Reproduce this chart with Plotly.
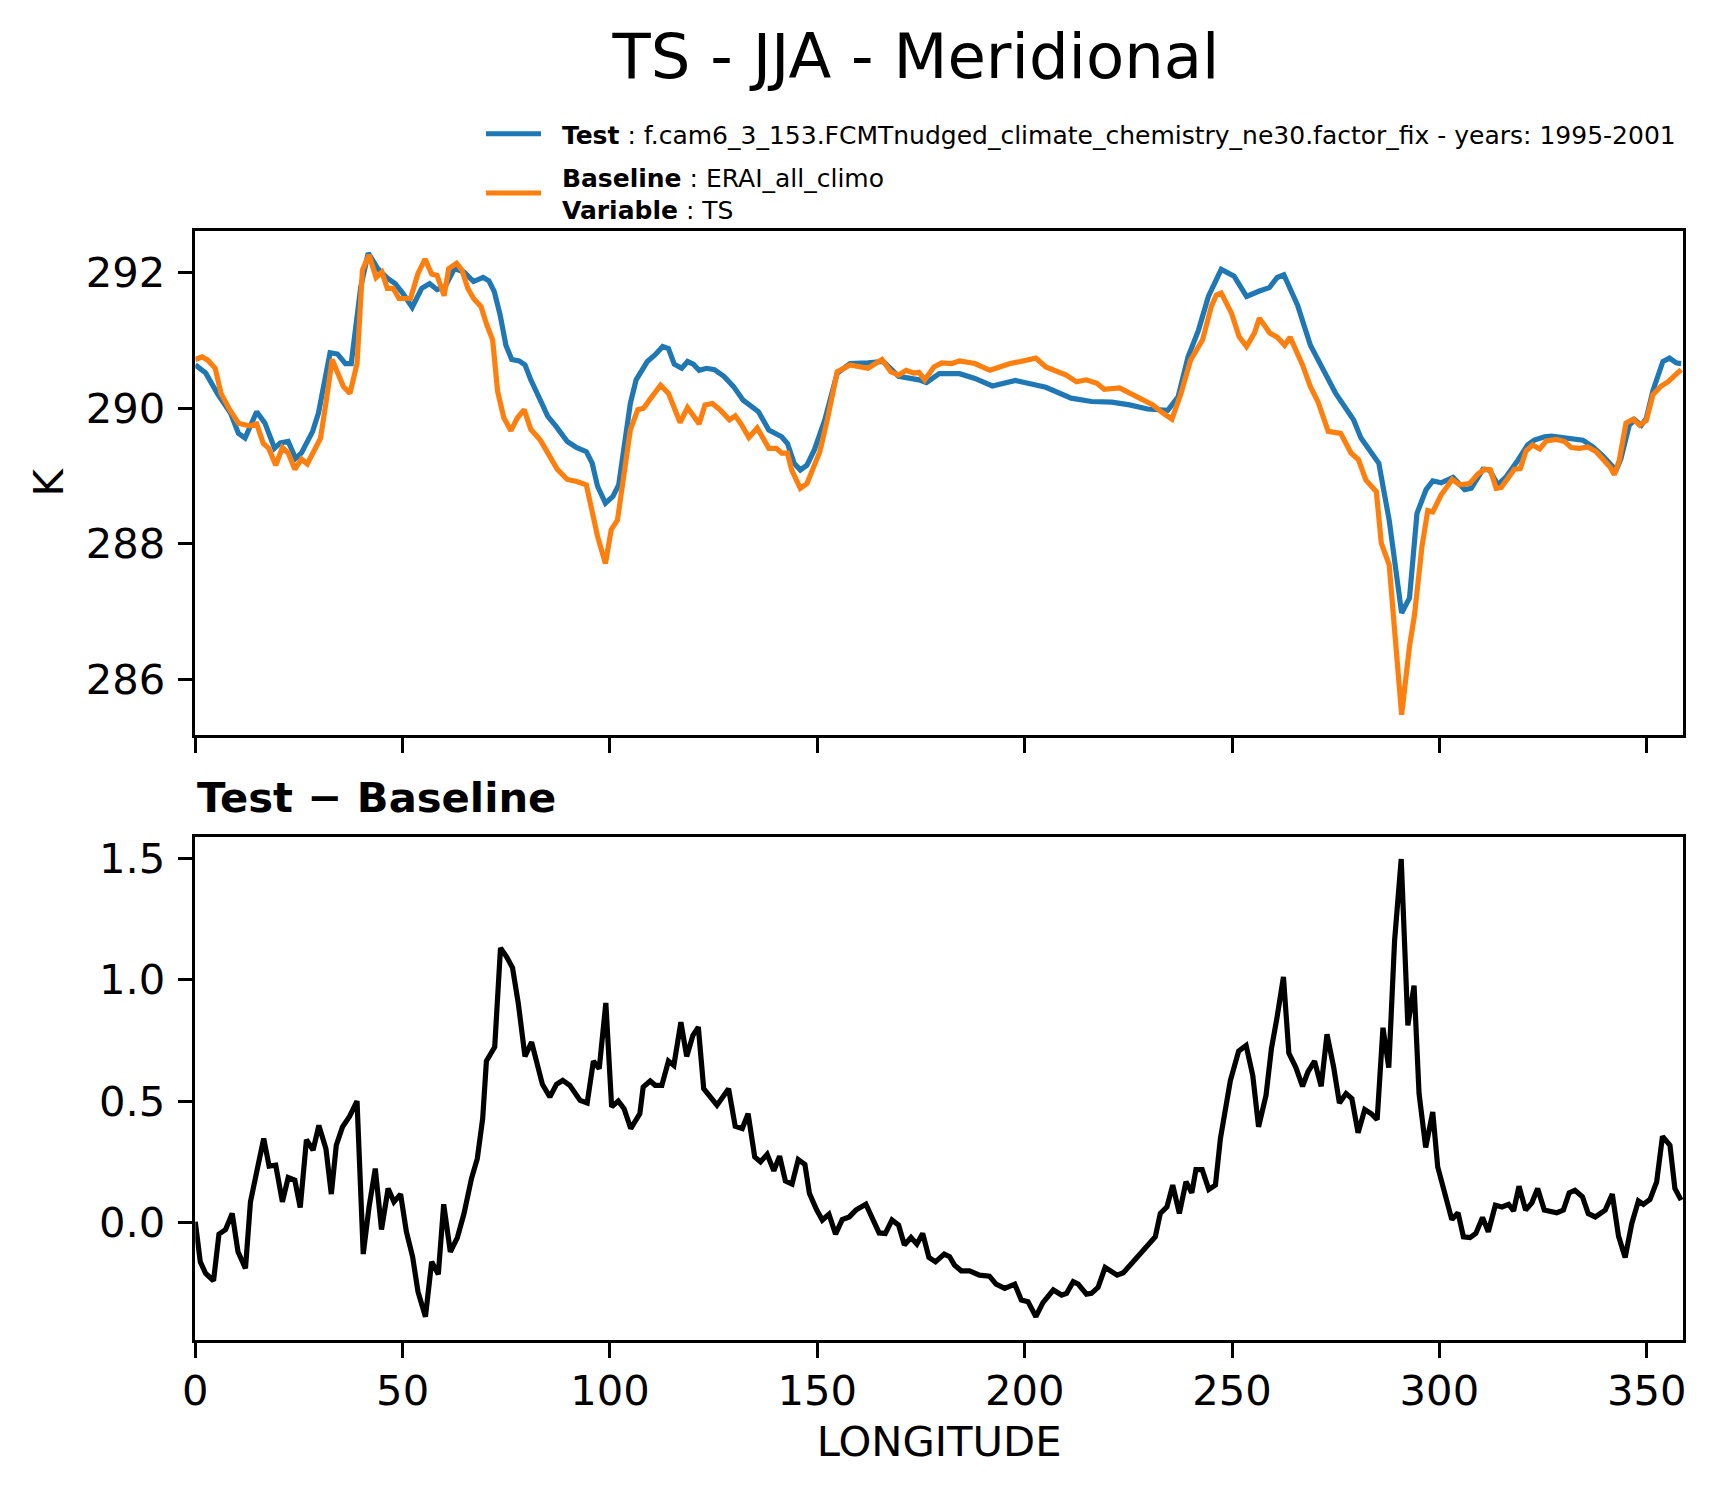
import plotly.graph_objects as go

# ---------------- data ----------------
test_lon = [0, 2.5, 5.3, 8.5, 10.4, 12.0, 14.8, 16.8, 19.1, 20.5, 22.4, 24.2, 25.6, 27.0, 28.3, 29.7,
            32.5, 34.3, 36.2, 37.6, 39.9, 41.7, 44.0, 46.3, 48.2, 50.0, 52.3, 54.6, 56.5, 58.3, 60.2,
            62.5, 64.8, 67.1, 69.4, 70.8, 72.1, 73.5, 74.9, 76.3, 78.1, 79.5, 80.9, 83.2, 85.0, 86.9,
            89.7, 92.0, 94.3, 95.7, 97.0, 98.9, 100.7, 102.1, 103.5, 104.9, 106.3, 109.0, 110.9, 112.7,
            114.1, 115.5, 117.3, 118.7, 120.1, 121.5, 123.3, 125.2, 127.5, 129.8, 132.1,
            134.0, 135.8, 138.3, 141.4, 142.8, 144.4, 145.9, 147.5, 149.3, 151.8, 154.8, 157.9, 162.2,
            165.9, 169.6, 174.5, 176.3, 179.4, 184.3, 188.0, 192.2, 197.8, 205.1, 211.2, 216.1, 221.0,
            225.3, 229.6, 234.5, 237.0, 239.4, 241.9, 244.3, 247.4, 250.5, 253.5, 256.6, 259.0, 260.9,
            262.5, 265.8, 268.9, 275.0, 279.3, 281.1, 285.4, 287.9, 290.9, 292.8, 294.6,
            296.8, 298.4, 300.4, 303.3, 306.1, 307.7, 310.5, 312.1, 314.1, 316.1, 318.9, 321.3, 322.9,
            325.4, 327.0, 330.6, 334.6, 337.0, 339.4, 341.8, 342.5, 343.8, 345.8, 347.1, 348.7, 349.9,
            351.5, 353.9, 355.5, 357.1, 358.3]
test_ts = [290.64, 290.52, 290.22, 289.93, 289.63, 289.56, 289.95, 289.78, 289.41, 289.49, 289.51, 289.26,
           289.34, 289.53, 289.66, 289.93, 290.82, 290.80, 290.66, 290.66, 291.79, 292.29, 292.06, 291.92,
           291.84, 291.70, 291.49, 291.77, 291.84, 291.75, 291.79, 292.06, 292.01, 291.87, 291.93, 291.88,
           291.72, 291.38, 290.93, 290.72, 290.70, 290.64, 290.42, 290.12, 289.88, 289.74, 289.51, 289.42,
           289.36, 289.19, 288.85, 288.60, 288.70, 288.87, 289.43, 290.07, 290.42, 290.69, 290.79, 290.91,
           290.88, 290.65, 290.59, 290.69, 290.65, 290.56, 290.59, 290.57, 290.47, 290.32, 290.12,
           290.02, 289.95, 289.68, 289.58, 289.48, 289.19, 289.09, 289.16, 289.39, 289.83, 290.52, 290.66,
           290.67, 290.69, 290.47, 290.42, 290.38, 290.51, 290.51, 290.44, 290.33, 290.41, 290.31, 290.15,
           290.10, 290.09, 290.05, 289.99, 289.97, 290.17, 290.76, 291.15, 291.65, 292.05, 291.95, 291.65,
           291.73, 291.78, 291.93, 291.97, 291.52, 290.93, 290.22, 289.83, 289.56, 289.19, 288.35, 286.98,
           287.20, 288.45,
           288.80, 288.93, 288.90, 288.98, 288.80, 288.82, 289.10, 289.09, 288.87, 288.99, 289.23, 289.46,
           289.53, 289.58, 289.59, 289.57, 289.53, 289.43, 289.30, 289.14, 289.07, 289.26, 289.75, 289.83,
           289.75, 289.85, 290.26, 290.69, 290.74, 290.67, 290.66]

base_lon = [0, 1.6, 3.0, 4.8, 6.2, 8.1, 10.4, 13.1, 14.8, 16.4, 17.7, 19.4, 21.0, 22.4, 24.0, 25.6, 27.0,
            30.2, 31.6, 33.0, 35.7, 37.3, 39.0, 40.3, 41.9, 43.6, 45.0, 46.3, 47.7, 49.1, 51.9, 53.7,
            55.4, 57.0, 58.3, 60.0, 61.1, 63.0, 64.3, 65.7, 67.1, 68.9, 70.3, 71.7, 72.9, 74.4, 76.1,
            77.7, 79.3, 80.9, 83.2, 85.0, 87.3, 89.7, 92.0, 94.3, 95.7, 97.0, 98.9, 100.3, 101.8, 103.5,
            104.9, 106.7, 108.1, 109.5, 112.2, 114.1, 116.9, 118.7, 121.5, 122.9, 124.7, 126.5, 128.8,
            130.2, 131.6, 133.5,
            135.5, 138.3, 140.1, 141.4, 142.8, 143.8, 145.9, 147.5, 150.6, 152.4, 154.8, 157.9, 162.2,
            165.6, 167.7, 169.6, 171.4, 173.2, 174.5, 175.9, 178.1, 180.0, 182.4, 184.3, 188.0, 191.6,
            196.5, 199.0, 202.7, 205.1, 207.6, 210.0, 212.5, 214.9, 217.4, 219.2, 222.9, 227.2, 230.9,
            233.3, 235.5, 237.6, 240.0, 242.9, 245.0, 246.2, 247.4, 249.9, 251.7, 253.5, 255.4, 256.6,
            259.1, 260.9, 262.7, 264.0, 267.0, 268.9, 270.7, 273.2, 276.2, 278.7, 280.5, 282.3, 284.8,
            286.0, 287.9, 290.9, 292.8, 294.0, 295.8,
            297.2, 298.4, 300.4, 303.1, 304.9, 307.3, 309.3, 310.9, 312.3, 313.7, 314.9, 316.5, 318.1,
            319.5, 320.9, 322.5, 324.2, 325.8, 328.2, 330.2, 331.8, 333.8, 335.8, 337.8, 339.8, 341.2,
            342.2, 343.4, 345.0, 346.7, 348.3, 349.9, 351.5, 353.5, 355.1, 356.7, 358.3]
base_ts = [290.72, 290.76, 290.71, 290.59, 290.22, 290.00, 289.78, 289.74, 289.77, 289.48, 289.41, 289.16,
           289.42, 289.34, 289.10, 289.25, 289.18, 289.56, 290.12, 290.72, 290.32, 290.22, 290.66, 292.04,
           292.26, 291.93, 292.01, 291.77, 291.77, 291.62, 291.62, 291.99, 292.20, 291.98, 291.96, 291.66,
           292.06, 292.14, 292.04, 291.77, 291.62, 291.50, 291.23, 291.01, 290.25, 289.86, 289.67, 289.86,
           289.98, 289.69, 289.53, 289.34, 289.10, 288.95, 288.92, 288.87, 288.47, 288.11, 287.71, 288.21,
           288.35, 289.04, 289.68, 289.98, 290.00, 290.12, 290.34, 290.22, 289.79, 290.01, 289.77, 290.05,
           290.07, 289.98, 289.83, 289.89, 289.77, 289.57,
           289.71, 289.41, 289.41, 289.34, 289.34, 289.09, 288.82, 288.89, 289.36, 289.83, 290.54, 290.64,
           290.59, 290.72, 290.54, 290.49, 290.56, 290.52, 290.53, 290.42, 290.61, 290.67, 290.66, 290.70,
           290.66, 290.56, 290.66, 290.69, 290.74, 290.61, 290.54, 290.49, 290.39, 290.42, 290.37, 290.28,
           290.30, 290.17, 290.05, 289.93, 289.84, 290.20, 290.71, 291.01, 291.50, 291.67, 291.70, 291.40,
           291.06, 290.91, 291.11, 291.33, 291.11, 291.05, 290.93, 291.05, 290.64, 290.32, 290.10, 289.66,
           289.63, 289.34, 289.24, 288.94, 288.77, 288.01, 287.69, 285.48, 286.49, 286.95, 287.96,
           288.49, 288.47, 288.72, 288.95, 288.87, 288.89, 289.03, 289.10, 289.09, 288.82, 288.83, 288.95,
           289.10, 289.11, 289.37, 289.46, 289.40, 289.52, 289.54, 289.51, 289.42, 289.41, 289.43, 289.36,
           289.24, 289.13, 289.02, 289.24, 289.78, 289.84, 289.75, 289.82, 290.20, 290.33, 290.39, 290.49,
           290.57]

diff_lon = [0, 1.2, 2.5, 4.4, 5.7, 7.3, 8.9, 10.3, 12.1, 13.3, 14.7, 16.5, 17.8, 19.4, 21.0, 22.4, 24.0,
            25.3, 26.8, 28.4, 29.8, 31.5, 32.8, 34.0, 35.5, 37.2, 39.0, 40.5, 41.9, 43.4, 44.9, 46.5,
            47.9, 49.5, 50.9, 52.4, 53.7, 55.5, 57.0, 58.6, 59.9, 61.5, 63.2, 64.8, 66.6, 68.0, 69.3,
            70.2, 72.2, 73.6, 75.1, 76.5, 77.9, 79.5, 81.1, 82.3, 83.7, 85.5, 87.1, 88.6, 90.3, 92.8,
            94.5, 96.0, 97.4, 99.0, 100.4, 102.0, 103.4, 105.0, 107.2, 108.0, 109.7, 110.9, 112.5, 114.1,
            115.4, 117.1, 118.5, 120.0, 121.3,
            122.6, 125.8, 128.6, 130.2, 131.9, 133.3, 134.9, 136.3, 137.9, 139.5, 140.9, 142.3, 143.9,
            145.4, 147.0, 148.1, 149.8, 151.2, 152.8, 154.4, 156.0, 157.7, 159.3, 161.7, 164.9, 166.4,
            168.0, 169.6, 171.0, 172.6, 174.0, 175.4, 176.9, 178.5, 180.6, 181.9, 183.1, 184.7, 186.7,
            189.1, 191.5, 193.1, 195.2, 197.6, 199.2, 200.8, 202.7, 204.4, 206.9, 208.9, 210.1, 211.7,
            212.9, 214.9, 216.1, 217.7, 219.4, 220.7, 222.3, 223.8, 225.8, 228.2, 231.5, 232.7, 234.3,
            235.7, 237.3, 238.9, 240.3,
            241.3, 242.8, 244.4, 246.0, 247.2, 248.4, 249.6, 251.6, 253.4, 255.0, 256.4, 258.2, 259.5,
            260.8, 262.4, 263.7, 265.4, 267.0, 268.3, 269.9, 271.5, 272.9, 274.5, 275.9, 277.5, 278.9,
            280.4, 282.0, 283.6, 285.0, 286.4, 287.8, 289.2, 290.8, 292.4, 293.9, 295.1, 296.7, 298.4,
            299.6, 301.4, 303.0, 304.5, 305.8, 307.4, 308.8, 310.4, 311.8, 313.5, 315.1, 316.7, 317.9,
            319.2, 320.8, 322.3, 323.7, 325.3, 328.3, 329.9, 331.3, 332.7, 334.5, 335.9, 337.6, 340.0,
            341.7, 343.2, 344.8, 346.4, 348.0, 349.2, 350.8, 352.4, 353.8, 355.6, 356.8, 358.3]
diff_ts = [0.003, -0.162, -0.21, -0.24, -0.048, -0.029, 0.037, -0.121, -0.189, 0.085, 0.2, 0.346, 0.232,
           0.236, 0.085, 0.185, 0.174, 0.062, 0.341, 0.298, 0.4, 0.304, 0.117, 0.318, 0.394, 0.437, 0.5,
           -0.13, 0.064, 0.222, -0.029, 0.14, 0.085, 0.117, -0.038, -0.141, -0.285, -0.388, -0.162, -0.213,
           0.075, -0.121, -0.062, 0.037, 0.181, 0.263, 0.428, 0.665, 0.723, 1.131, 1.093, 1.049, 0.901,
           0.684, 0.743, 0.668, 0.569, 0.517, 0.569, 0.585, 0.565, 0.503, 0.492, 0.665, 0.633, 0.904,
           0.476, 0.5, 0.469, 0.387, 0.448, 0.558, 0.583, 0.565, 0.565, 0.665, 0.647, 0.825, 0.684, 0.771,
           0.805,
           0.551, 0.483, 0.551, 0.396, 0.387, 0.448, 0.27, 0.25, 0.281, 0.213, 0.273, 0.171, 0.158, 0.259,
           0.239, 0.119, 0.053, 0.01, 0.034, -0.048, 0.012, 0.023, 0.051, 0.075, -0.043, -0.045, 0.01,
           -0.011, -0.093, -0.062, -0.089, -0.045, -0.144, -0.162, -0.13, -0.141, -0.176, -0.199, -0.199,
           -0.217, -0.221, -0.254, -0.271, -0.254, -0.319, -0.326, -0.388, -0.33, -0.278, -0.299, -0.292,
           -0.244, -0.254, -0.295, -0.292, -0.267, -0.185, -0.199, -0.217, -0.207, -0.169, -0.128, -0.059,
           0.037, 0.064, 0.154, 0.037, 0.168, 0.122,
           0.218, 0.218, 0.136, 0.154, 0.346, 0.483, 0.585, 0.706, 0.729, 0.606, 0.394, 0.524, 0.716,
           0.839, 1.011, 0.698, 0.638, 0.561, 0.62, 0.665, 0.561, 0.775, 0.641, 0.492, 0.531, 0.51, 0.369,
           0.465, 0.448, 0.424, 0.802, 0.638, 1.161, 1.497, 0.812, 0.976, 0.531, 0.309, 0.455, 0.229,
           0.106, 0.012, 0.04, -0.059, -0.062, -0.045, 0.021, -0.038, 0.071, 0.064, 0.075, 0.048, 0.149,
           0.051, 0.081, 0.14, 0.051, 0.04, 0.051, 0.122, 0.133, 0.106, 0.037, 0.023, 0.051, 0.117, -0.056,
           -0.144, -0.004, 0.089, 0.075, 0.095, 0.167, 0.355, 0.318, 0.14, 0.092]

top_yticks = [286, 288, 290, 292]
bottom_yticks = [0.0, 0.5, 1.0, 1.5]
x_ticks = [0, 50, 100, 150, 200, 250, 300, 350]

GAP = "\u00a0\u00a0"
test_name = GAP + "<b>Test</b> : f.cam6_3_153.FCMTnudged_climate_chemistry_ne30.factor_fix - years: 1995-2001"
base_name = GAP + "<b>Baseline</b> : ERAI_all_climo<br>" + GAP + "<b>Variable</b> : TS"

# ---------------- figure ----------------
W, H = 1717, 1496
FONT = "DejaVu Sans"
TICK = 41.7
LW = 5.2

fig = go.Figure()
fig.add_trace(go.Scatter(x=test_lon, y=test_ts, mode="lines", name=test_name,
                         line=dict(color="#1f77b4", width=LW), xaxis="x", yaxis="y", legend="legend"))
fig.add_trace(go.Scatter(x=base_lon, y=base_ts, mode="lines", name=base_name,
                         line=dict(color="#ff7f0e", width=LW), xaxis="x", yaxis="y", legend="legend2"))
fig.add_trace(go.Scatter(x=diff_lon, y=diff_ts, mode="lines", showlegend=False,
                         line=dict(color="black", width=LW), xaxis="x2", yaxis="y2"))

xdom = [195.3 / W, 1683 / W]
axis_common = dict(showline=True, linecolor="black", linewidth=3.3, mirror=True,
                   ticks="outside", ticklen=14.6, tickwidth=3.3, tickcolor="black",
                   showgrid=False, zeroline=False, automargin=False,
                   tickfont=dict(family=FONT, size=TICK, color="black"))

legend_common = dict(xanchor="left", yanchor="middle", bgcolor="rgba(0,0,0,0)", borderwidth=0,
                     itemwidth=55, valign="middle", font=dict(family=FONT, size=25, color="black"))

fig.update_layout(
    width=W, height=H,
    margin=dict(l=0, r=0, t=0, b=0, autoexpand=False),
    paper_bgcolor="white", plot_bgcolor="white",
    font=dict(family=FONT, color="black"),
    title=dict(text="TS - JJA - Meridional", x=916 / W, xanchor="center",
               y=1 - 56 / H, yanchor="middle", xref="paper", yref="paper",
               font=dict(family=FONT, size=62.5, color="black")),
    xaxis=dict(domain=xdom, anchor="y", range=[0, 358.75], tickvals=x_ticks,
               showticklabels=False, **axis_common),
    yaxis=dict(domain=[1 - 735 / H, 1 - 230.7 / H], anchor="x", range=[285.18, 292.62],
               tickvals=top_yticks, ticklabelstandoff=4,
               title=dict(text="K", font=dict(family=FONT, size=TICK, color="black"), standoff=10),
               **axis_common),
    xaxis2=dict(domain=xdom, anchor="y2", range=[0, 358.75], tickvals=x_ticks,
                ticklabelstandoff=-3,
                title=dict(text="LONGITUDE", font=dict(family=FONT, size=TICK, color="black"), standoff=14),
                **axis_common),
    yaxis2=dict(domain=[1 - 1340 / H, 1 - 836.7 / H], anchor="x2", range=[-0.484, 1.589],
                tickvals=bottom_yticks, tickformat=".1f", ticklabelstandoff=4,
                **axis_common),
    legend=dict(x=481 / W, y=1 - 134 / H, **legend_common),
    legend2=dict(x=481 / W, y=1 - 193 / H, **legend_common),
    annotations=[dict(text="<b>Test \u2212 Baseline</b>", xref="paper", yref="paper",
                      x=195 / W, y=1 - 797 / H, xanchor="left", yanchor="middle",
                      showarrow=False, font=dict(family=FONT, size=TICK, color="black"))],
)

fig.write_html("out.html", config={"displayModeBar": False},
               post_script="document.body.style.margin='0px';document.body.style.overflow='hidden';")
